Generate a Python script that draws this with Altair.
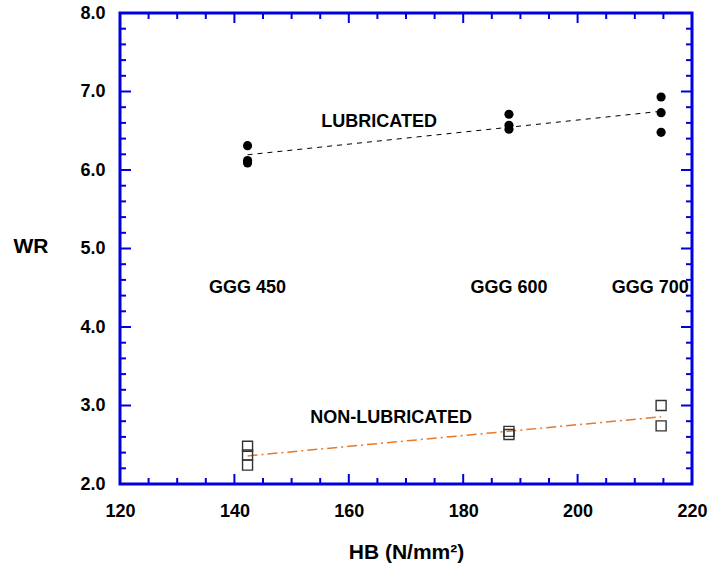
import altair as alt
import pandas as pd

# Wear resistance (WR) against Brinell hardness for three ductile iron grades
hb_lub = [142.3, 142.3, 142.3, 188.0, 188.0, 188.0, 214.6, 214.6, 214.6]
wr_lub = [6.31, 6.12, 6.09, 6.71, 6.57, 6.52, 6.93, 6.73, 6.48]

hb_dry = [142.3, 142.3, 142.3, 188.0, 188.0, 214.6, 214.6]
wr_dry = [2.48, 2.37, 2.24, 2.67, 2.63, 3.00, 2.74]

grade_names = ["GGG 450", "GGG 600", "GGG 700"]
grade_hb = [142.3, 188.0, 212.7]
grade_wr = [4.5, 4.5, 4.5]

curve_names = ["LUBRICATED", "NON-LUBRICATED"]
curve_hb = [165.3, 167.4]
curve_wr = [6.615, 2.84]

x_major = [120, 140, 160, 180, 200, 220]
x_minor = [v for v in range(120, 221, 5) if v % 20 != 0]
y_major = [2.0, 3.0, 4.0, 5.0, 6.0, 7.0, 8.0]
y_minor = [round(2.0 + 0.2 * i, 1) for i in range(31) if (i % 5) != 0]

W, H = 572, 471
BLUE = "#0000DD"
FONT = "Liberation Sans"

lub = pd.DataFrame({"hb": hb_lub, "wr": wr_lub})
dry = pd.DataFrame({"hb": hb_dry, "wr": wr_dry})
grades = pd.DataFrame({"hb": grade_hb, "wr": grade_wr, "label": grade_names})
curves = pd.DataFrame({"hb": curve_hb, "wr": curve_wr, "label": curve_names})

xs = alt.Scale(domain=[120, 220], nice=False, zero=False)
ys = alt.Scale(domain=[2.0, 8.0], nice=False, zero=False)

x_axis = alt.Axis(
    values=x_major, format=".0f", ticks=False, domain=False, grid=False,
    labelFlush=False, labelOverlap=False,
    labelPadding=18, labelFont=FONT, labelFontSize=18, labelFontWeight="bold",
    labelColor="black", title="HB (N/mm²)", titleFont=FONT, titleFontSize=21,
    titleFontWeight="bold", titleColor="black", titlePadding=21,
)
y_axis = alt.Axis(
    values=y_major, format=".1f", ticks=False, domain=False, grid=False,
    labelFlush=False, labelOverlap=False,
    labelPadding=15, labelFont=FONT, labelFontSize=18, labelFontWeight="bold",
    labelColor="black", title="WR", titleFont=FONT, titleFontSize=21,
    titleFontWeight="bold", titleColor="black", titleAngle=0,
    titleAlign="left", titleBaseline="middle", titleX=-107, titleY=233,
)

X = alt.X("hb:Q", scale=xs, axis=x_axis)
Y = alt.Y("wr:Q", scale=ys, axis=y_axis)

lub_pts = alt.Chart(lub).mark_circle(size=84, color="black", opacity=1).encode(x=X, y=Y)
dry_pts = alt.Chart(dry).mark_point(
    shape="square", size=100, filled=False, color="#333333", strokeWidth=1.4, opacity=1
).encode(x=X, y=Y)

lub_fit = alt.Chart(lub).transform_regression("hb", "wr").mark_line(
    color="black", strokeWidth=1, strokeDash=[5, 5]
).encode(x=X, y=Y)
dry_fit = alt.Chart(dry).transform_regression("hb", "wr").mark_line(
    color="#E8782A", strokeWidth=1.5, strokeDash=[10, 4, 2, 4]
).encode(x=X, y=Y)

text_style = dict(font=FONT, fontSize=18, fontWeight="bold", color="black",
                  align="center", baseline="middle")
grade_txt = alt.Chart(grades).mark_text(**text_style).encode(x=X, y=Y, text="label:N")
curve_txt = alt.Chart(curves).mark_text(**text_style).encode(x=X, y=Y, text="label:N")


# Inward-pointing ticks on all four sides of the frame
def x_ticks(values, length):
    d = pd.DataFrame({"hb": values})
    bottom = alt.Chart(d).mark_rule(color=BLUE, strokeWidth=2).encode(
        x=alt.X("hb:Q", scale=xs), y=alt.value(H), y2=alt.value(H - length))
    top = alt.Chart(d).mark_rule(color=BLUE, strokeWidth=2).encode(
        x=alt.X("hb:Q", scale=xs), y=alt.value(0), y2=alt.value(length))
    return [bottom, top]


def y_ticks(values, length):
    d = pd.DataFrame({"wr": values})
    left = alt.Chart(d).mark_rule(color=BLUE, strokeWidth=2).encode(
        y=alt.Y("wr:Q", scale=ys), x=alt.value(0), x2=alt.value(length))
    right = alt.Chart(d).mark_rule(color=BLUE, strokeWidth=2).encode(
        y=alt.Y("wr:Q", scale=ys), x=alt.value(W), x2=alt.value(W - length))
    return [left, right]


tick_layers = x_ticks(x_major, 10) + x_ticks(x_minor, 6) + y_ticks(y_major, 11) + y_ticks(y_minor, 6)

chart = alt.layer(
    lub_fit, dry_fit, lub_pts, dry_pts, grade_txt, curve_txt, *tick_layers
).properties(
    width=W, height=H,
    background="white",
    autosize=alt.AutoSizeParams(type="none"),
    padding={"left": 120, "top": 13, "right": 20, "bottom": 80},
).configure_view(
    stroke=BLUE, strokeWidth=3
)

chart.save("out.html", embed_options={"renderer": "svg", "actions": False})
